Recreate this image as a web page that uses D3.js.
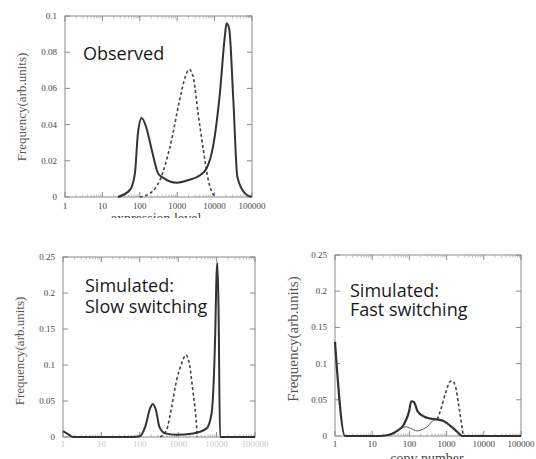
<!DOCTYPE html>
<html><head><meta charset="utf-8">
<script src="https://cdn.jsdelivr.net/npm/d3@7"></script>
<style>
html,body{margin:0;padding:0;background:#fff;}
svg{display:block;}
</style></head>
<body>
<svg id="chart" width="536" height="459"></svg>
<script>
// ---------- data ----------
const xTickValues = [1, 10, 100, 1000, 10000, 100000];
const xTickLabels = ["1", "10", "100", "1000", "10000", "100000"];
const yTicksObserved = [0, 0.02, 0.04, 0.06, 0.08, 0.1];
const yTickLabelsObserved = ["0", "0.02", "0.04", "0.06", "0.08", "0.1"];
const yTicksSim = [0, 0.05, 0.1, 0.15, 0.2, 0.25];
const yTickLabelsSim = ["0", "0.05", "0.1", "0.15", "0.2", "0.25"];

// Observed (expression level)
const observedSolidX = [26, 55, 74, 89, 112, 151, 209, 309, 417, 977, 1995, 4074, 6166, 9120, 13800, 19050, 20900, 24550, 31600, 40700, 64600, 97700];
const observedSolidY = [0, 0.004, 0.013, 0.035, 0.0436, 0.038, 0.026, 0.013, 0.0107, 0.0079, 0.0094, 0.012, 0.016, 0.028, 0.057, 0.090, 0.096, 0.093, 0.054, 0.011, 0.002, 0];
const observedDashX = [100, 186, 347, 646, 1175, 1622, 2089, 2692, 3631, 5012, 6761, 10230];
const observedDashY = [0, 0.002, 0.0094, 0.028, 0.054, 0.066, 0.0705, 0.066, 0.046, 0.026, 0.0094, 0];

// Simulated: slow switching
const slowSolidX = [1, 1.26, 1.86, 68, 100, 138, 186, 219, 263, 324, 457, 912, 2455, 5495, 7413, 9120, 10000, 10470, 11220, 12300, 100000];
const slowSolidY = [0.008, 0.005, 0, 0, 0.001, 0.014, 0.04, 0.046, 0.0375, 0.014, 0.005, 0.003, 0.005, 0.012, 0.033, 0.135, 0.227, 0.242, 0.181, 0, 0];
const slowDashX = [339, 501, 676, 912, 1230, 1585, 1950, 2400, 2884, 3162];
const slowDashY = [0, 0.01, 0.042, 0.079, 0.102, 0.114, 0.102, 0.065, 0.028, 0];

// Simulated: fast switching
const fastSolidX = [1, 1.86, 16.6, 31, 47, 71, 98, 112, 132, 166, 245, 372, 562, 851, 1288, 1950, 2630, 100000];
const fastSolidY = [0.13, 0, 0, 0.002, 0.007, 0.016, 0.034, 0.048, 0.047, 0.034, 0.027, 0.024, 0.023, 0.0205, 0.0136, 0.0055, 0, 0];
const fastThinX = [27.5, 47, 78, 107, 162, 224, 302, 417, 562];
const fastThinY = [0.002, 0.007, 0.0128, 0.0105, 0.007, 0.009, 0.0128, 0.0205, 0.023];
const fastDashX = [562, 692, 933, 1230, 1413, 1738, 2138, 2570, 2818];
const fastDashY = [0.023, 0.036, 0.059, 0.075, 0.076, 0.068, 0.041, 0.0136, 0];

// ---------- drawing ----------
const svg = d3.select("#chart");
const serif = "'Liberation Serif','DejaVu Serif',serif";
const sans = "'Open Sans','Lato',sans-serif";

function zip(xs, ys){ return xs.map((x,i)=>[x, ys[i]]); }

function panel(cfg){
  const g = svg.append("g");
  const x = d3.scaleLog().domain([1, 100000]).range([cfg.left, cfg.right]);
  const y = d3.scaleLinear().domain([0, cfg.ymax]).range([cfg.bottom, cfg.top]);
  const frame = "#8a8a8a";

  g.append("rect").attr("x", cfg.left).attr("y", cfg.top)
    .attr("width", cfg.right - cfg.left).attr("height", cfg.bottom - cfg.top)
    .attr("fill", "none").attr("stroke", frame).attr("stroke-width", 1);

  const minor = [];
  for (let d = 1; d < 100000; d *= 10) for (let k = 2; k <= 9; k++) minor.push(d*k);
  const gx = g.append("g");
  gx.selectAll(".mj").data(xTickValues).join("path")
    .attr("d", v => `M${x(v)},${cfg.bottom}v-5M${x(v)},${cfg.top}v5`)
    .attr("stroke", frame).attr("stroke-width", 1);
  gx.selectAll(".mn").data(minor).join("path")
    .attr("d", v => `M${x(v)},${cfg.bottom}v-2.5M${x(v)},${cfg.top}v2.5`)
    .attr("stroke", "#aaa").attr("stroke-width", 0.8);
  gx.selectAll("text").data(xTickValues).join("text")
    .attr("x", v => x(v)).attr("y", cfg.bottom + cfg.xLabelDy)
    .attr("text-anchor", "middle")
    .attr("font-family", serif).attr("font-size", cfg.tickSize)
    .attr("fill", cfg.xLabelColor)
    .text((v,i) => xTickLabels[i]);

  const gy = g.append("g");
  gy.selectAll("path").data(cfg.yTicks).join("path")
    .attr("d", v => `M${cfg.left},${y(v)}h5M${cfg.right},${y(v)}h-5`)
    .attr("stroke", frame).attr("stroke-width", 1);
  gy.selectAll("text").data(cfg.yTicks).join("text")
    .attr("x", cfg.left - 8).attr("y", v => y(v) + 3)
    .attr("text-anchor", "end")
    .attr("font-family", serif).attr("font-size", cfg.tickSize)
    .attr("fill", "#444")
    .text((v,i) => cfg.yLabels[i]);

  g.append("text")
    .attr("transform", `translate(${cfg.yTitleX},${cfg.yTitleY}) rotate(-90)`)
    .attr("text-anchor", "middle")
    .attr("font-family", serif).attr("font-size", cfg.yTitleSize)
    .attr("fill", "#555")
    .text("Frequency(arb.units)");

  if (cfg.xTitle){
    const t = g.append("text")
      .attr("x", cfg.xTitleX).attr("y", cfg.xTitleY)
      .attr("text-anchor", "middle")
      .attr("font-family", serif).attr("font-size", cfg.xTitleSize)
      .attr("fill", "#444")
      .text(cfg.xTitle);
    if (cfg.xTitleClip){
      const id = "clip" + Math.round(cfg.left) + Math.round(cfg.top);
      svg.append("clipPath").attr("id", id).append("rect")
        .attr("x", 0).attr("y", 0).attr("width", 536).attr("height", cfg.xTitleClip);
      t.attr("clip-path", `url(#${id})`);
    }
  }

  const line = d3.line().x(d => x(d[0])).y(d => y(d[1])).curve(d3.curveMonotoneX);
  cfg.series.forEach(s => {
    g.append("path").datum(zip(s.x, s.y))
      .attr("d", line).attr("fill", "none")
      .attr("stroke", s.color || "#333")
      .attr("stroke-width", s.width)
      .attr("stroke-dasharray", s.dash || null)
      .attr("stroke-linejoin", "round");
  });

  // annotation: one text element, lines as tspans
  const note = g.append("text")
    .attr("x", cfg.noteX).attr("y", cfg.noteY)
    .attr("font-family", sans).attr("font-size", 18)
    .attr("fill", "#1a1a1a");
  cfg.noteLines.forEach((t, i) => {
    note.append("tspan").attr("x", cfg.noteX).attr("dy", i === 0 ? 0 : cfg.noteGap).text(t);
  });
}

panel({
  left: 65, right: 252, top: 16, bottom: 197, ymax: 0.1,
  yTicks: yTicksObserved, yLabels: yTickLabelsObserved,
  tickSize: 9, xLabelDy: 12, xLabelColor: "#444",
  yTitleX: 26, yTitleY: 107, yTitleSize: 13,
  xTitle: "expression level", xTitleX: 156, xTitleY: 223, xTitleSize: 14, xTitleClip: 218,
  series: [
    {x: observedDashX, y: observedDashY, width: 1.6, dash: "3,2.5", color: "#444"},
    {x: observedSolidX, y: observedSolidY, width: 2, color: "#333"}
  ],
  noteX: 83, noteY: 60, noteGap: 21, noteLines: ["Observed"]
});

panel({
  left: 63, right: 255, top: 257, bottom: 437, ymax: 0.25,
  yTicks: yTicksSim, yLabels: yTickLabelsSim,
  tickSize: 9, xLabelDy: 10, xLabelColor: "#c8c8c8",
  yTitleX: 24, yTitleY: 351, yTitleSize: 13,
  xTitle: null,
  series: [
    {x: slowDashX, y: slowDashY, width: 1.6, dash: "3,2.5", color: "#444"},
    {x: slowSolidX, y: slowSolidY, width: 2, color: "#333"}
  ],
  noteX: 85, noteY: 292, noteGap: 21, noteLines: ["Simulated:", "Slow switching"]
});

panel({
  left: 335, right: 521, top: 255, bottom: 436, ymax: 0.25,
  yTicks: yTicksSim, yLabels: yTickLabelsSim,
  tickSize: 9, xLabelDy: 11, xLabelColor: "#444",
  yTitleX: 298, yTitleY: 339, yTitleSize: 15,
  xTitle: "copy number", xTitleX: 427, xTitleY: 463, xTitleSize: 14,
  series: [
    {x: fastThinX, y: fastThinY, width: 1, color: "#555"},
    {x: fastDashX, y: fastDashY, width: 1.6, dash: "3,2.5", color: "#444"},
    {x: fastSolidX, y: fastSolidY, width: 2.2, color: "#333"}
  ],
  noteX: 350, noteY: 297, noteGap: 19, noteLines: ["Simulated:", "Fast switching"]
});
</script>
</body></html>
